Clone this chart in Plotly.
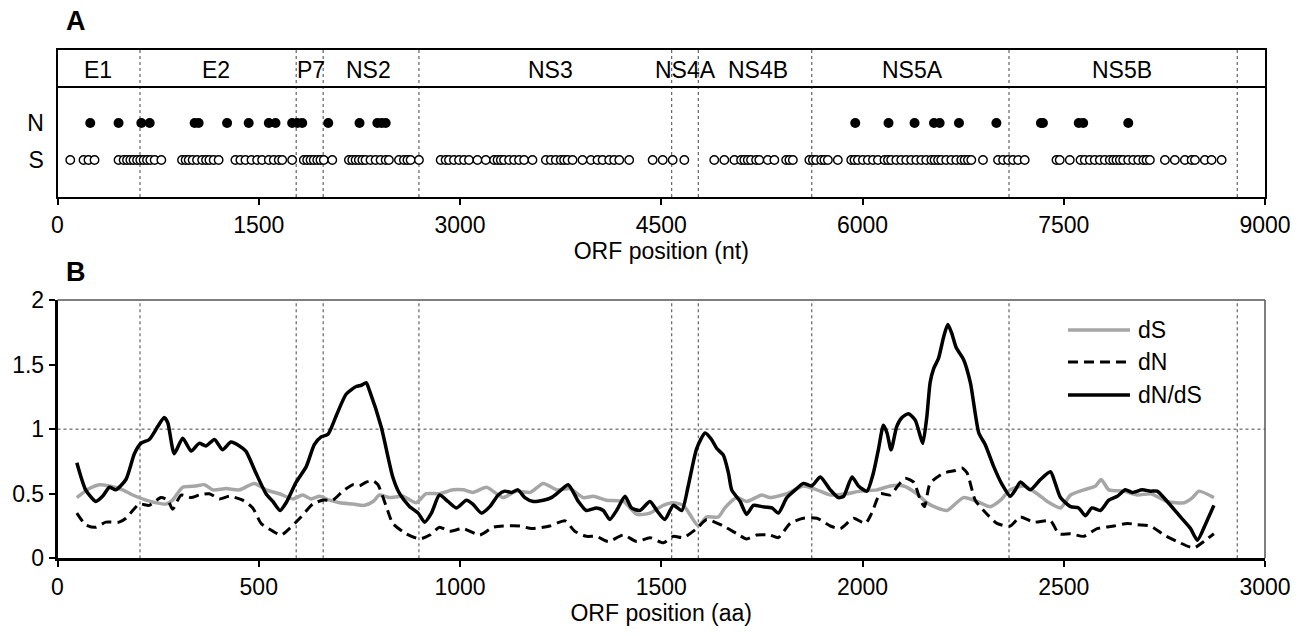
import plotly.graph_objects as go

# ---------------- data ----------------
# Panel A: substitution positions along ORF (nt)
N_POS = [244, 455, 625, 687, 1022, 1052, 1264, 1425, 1575, 1625, 1749, 1787, 1824,
         2018, 2251, 2384, 2416, 2446,
         5946, 6194, 6388, 6533, 6575, 6719, 6998, 7330, 7345, 7612, 7645, 7981]
S_POS = [95, 194, 231, 276, 455, 493, 518, 543, 567, 593, 617, 642, 667, 692, 724, 774,
         928, 955, 978, 1007, 1040, 1078, 1107, 1132, 1164, 1201,
         1326, 1363, 1401, 1446, 1488, 1525, 1575, 1612, 1649, 1675, 1749,
         1836, 1861, 1886, 1910, 1936, 1960, 1985, 2048,
         2172, 2197, 2222, 2246, 2272, 2296, 2333, 2371, 2408, 2446, 2470,
         2545, 2582, 2608, 2632, 2694, 2856, 2893, 2918,
         2955, 2993, 3030, 3067, 3130, 3192, 3254, 3280, 3304, 3328, 3366, 3403,
         3440, 3478, 3540, 3640, 3677, 3714, 3751, 3776, 3802, 3839, 3913, 3976,
         4025, 4063, 4112, 4149, 4187, 4261,
         4436, 4511, 4585, 4672,
         4895, 4970, 5045, 5095, 5119, 5145, 5169, 5207, 5231, 5294, 5343,
         5431, 5455, 5481, 5604, 5630, 5654, 5692, 5716, 5742, 5816,
         5916, 5940, 5966, 6003, 6040, 6078, 6115, 6164, 6190, 6214, 6252, 6289,
         6326, 6363, 6401, 6438, 6475, 6513, 6537, 6563, 6587, 6624, 6662, 6699,
         6736, 6761, 6786, 6811, 6898, 7010, 7048, 7085, 7122, 7160, 7209,
         7446, 7470, 7545, 7625, 7657, 7694, 7731, 7769, 7806, 7843, 7869, 7893,
         7918, 7943, 7980, 8018, 8055, 8093, 8117, 8142, 8254, 8328, 8403, 8453,
         8478, 8552, 8602, 8677]

# region boundaries (aa) and labels
BOUNDS_AA = [205, 593, 660, 898, 1526, 1592, 1874, 2364, 2931]
REGIONS = ["E1", "E2", "P7", "NS2", "NS3", "NS4A", "NS4B", "NS5A", "NS5B"]
REGION_CENTER_NT = [300, 1180, 1886, 2321, 3677, 4679, 5220, 6371, 7935]

# Panel B: sliding-window estimates along ORF (aa)
DNDS_AA = [48, 70, 95, 112, 129, 145, 170, 191, 207, 228, 249, 265, 274, 290, 311, 332,
           352, 369, 390, 410, 431, 452, 468, 493, 518, 535, 553, 568, 593, 618, 638,
           655, 672, 692, 717, 742, 755, 767, 775, 804, 833, 850, 875, 896, 912, 929,
           949, 970, 991, 1016, 1032, 1053, 1074, 1095, 1111, 1128, 1144, 1161, 1182,
           1207, 1227, 1248, 1269, 1294, 1314, 1339, 1356, 1372, 1389, 1410, 1426,
           1447, 1472, 1489, 1509, 1530, 1551, 1567, 1588, 1609, 1625, 1638, 1654,
           1667, 1675, 1696, 1712, 1729, 1750, 1775, 1791, 1812, 1833, 1853, 1874,
           1895, 1920, 1940, 1953, 1974, 1990, 2011, 2027, 2040, 2052, 2061, 2071,
           2085, 2098, 2114, 2131, 2144, 2150, 2160, 2168, 2177, 2189, 2202, 2212,
           2222, 2233, 2251, 2268, 2289, 2305, 2326, 2347, 2367, 2380, 2392, 2417,
           2442, 2467, 2479, 2492, 2517, 2537, 2554, 2570, 2591, 2612, 2633, 2653,
           2670, 2695, 2716, 2732, 2757, 2790, 2815, 2832, 2853, 2873]
DNDS = [0.74, 0.53, 0.44, 0.48, 0.55, 0.53, 0.61, 0.81, 0.89, 0.92, 1.02, 1.09, 1.05,
        0.81, 0.93, 0.83, 0.89, 0.87, 0.92, 0.84, 0.90, 0.87, 0.83, 0.66, 0.50, 0.44,
        0.37, 0.43, 0.59, 0.71, 0.88, 0.94, 0.96, 1.10, 1.27, 1.33, 1.34, 1.36, 1.30,
        1.02, 0.63, 0.50, 0.40, 0.35, 0.28, 0.35, 0.49, 0.44, 0.39, 0.45, 0.42, 0.35,
        0.40, 0.49, 0.52, 0.51, 0.53, 0.47, 0.44, 0.45, 0.47, 0.52, 0.57, 0.44, 0.37,
        0.39, 0.37, 0.30, 0.37, 0.48, 0.39, 0.37, 0.44, 0.37, 0.30, 0.41, 0.37, 0.56,
        0.85, 0.97, 0.92, 0.85, 0.80, 0.66, 0.53, 0.44, 0.34, 0.41, 0.40, 0.39, 0.35,
        0.47, 0.53, 0.58, 0.56, 0.63, 0.53, 0.47, 0.48, 0.63, 0.56, 0.52, 0.66, 0.85,
        1.03, 0.97, 0.84, 1.02, 1.09, 1.12, 1.07, 0.94, 0.89, 1.10, 1.36, 1.47, 1.55,
        1.72, 1.81, 1.74, 1.63, 1.54, 1.36, 0.97, 0.88, 0.71, 0.57, 0.48, 0.53, 0.59,
        0.53, 0.61, 0.67, 0.58, 0.47, 0.40, 0.39, 0.33, 0.39, 0.37, 0.45, 0.48, 0.53,
        0.51, 0.53, 0.52, 0.52, 0.44, 0.32, 0.23, 0.14, 0.27, 0.41]

DS_AA = [48, 79, 104, 129, 162, 187, 220, 245, 270, 286, 311, 344, 365, 386, 419, 452,
         489, 518, 551, 585, 609, 630, 651, 676, 701, 734, 763, 784, 800, 825, 858,
         891, 916, 949, 983, 1008, 1032, 1066, 1107, 1140, 1174, 1207, 1240, 1273,
         1306, 1331, 1364, 1406, 1439, 1472, 1505, 1530, 1555, 1571, 1592, 1613,
         1642, 1658, 1688, 1712, 1750, 1770, 1812, 1853, 1887, 1920, 1961, 1994,
         2036, 2069, 2102, 2135, 2160, 2185, 2210, 2251, 2285, 2318, 2343, 2367,
         2401, 2434, 2459, 2492, 2517, 2550, 2579, 2593, 2612, 2649, 2683, 2716,
         2757, 2799, 2820, 2836, 2873]
DS = [0.47, 0.54, 0.57, 0.56, 0.53, 0.49, 0.45, 0.43, 0.42, 0.45, 0.55, 0.56, 0.57,
      0.53, 0.54, 0.53, 0.58, 0.53, 0.50, 0.46, 0.49, 0.46, 0.48, 0.45, 0.43, 0.42,
      0.41, 0.44, 0.49, 0.47, 0.48, 0.43, 0.50, 0.50, 0.53, 0.53, 0.51, 0.55, 0.47,
      0.52, 0.51, 0.58, 0.53, 0.54, 0.47, 0.48, 0.45, 0.44, 0.34, 0.35, 0.41, 0.43,
      0.41, 0.34, 0.25, 0.32, 0.32, 0.39, 0.47, 0.44, 0.49, 0.47, 0.50, 0.56, 0.53,
      0.49, 0.50, 0.52, 0.53, 0.56, 0.56, 0.50, 0.43, 0.39, 0.37, 0.47, 0.44, 0.40,
      0.45, 0.53, 0.56, 0.50, 0.44, 0.39, 0.49, 0.53, 0.56, 0.61, 0.53, 0.52, 0.49,
      0.50, 0.44, 0.43, 0.47, 0.52, 0.47]

DN_AA = [48, 70, 95, 120, 153, 170, 203, 228, 257, 274, 286, 307, 332, 352, 377, 402,
         427, 460, 485, 506, 535, 556, 576, 605, 634, 659, 684, 709, 734, 750, 767,
         784, 796, 817, 833, 866, 900, 925, 949, 974, 1008, 1049, 1082, 1107, 1149,
         1178, 1223, 1261, 1285, 1314, 1339, 1368, 1406, 1439, 1472, 1505, 1530,
         1555, 1588, 1613, 1654, 1688, 1712, 1737, 1770, 1791, 1820, 1853, 1887,
         1920, 1945, 1978, 2007, 2023, 2044, 2069, 2090, 2106, 2127, 2144, 2154,
         2168, 2202, 2231, 2247, 2260, 2280, 2301, 2334, 2367, 2392, 2425, 2467,
         2488, 2517, 2550, 2583, 2625, 2658, 2683, 2716, 2749, 2782, 2823, 2848, 2873]
DN = [0.35, 0.26, 0.24, 0.28, 0.28, 0.31, 0.42, 0.41, 0.47, 0.45, 0.38, 0.49, 0.47,
      0.49, 0.50, 0.46, 0.48, 0.45, 0.39, 0.27, 0.21, 0.18, 0.23, 0.32, 0.42, 0.45,
      0.45, 0.52, 0.57, 0.56, 0.59, 0.60, 0.57, 0.40, 0.27, 0.19, 0.15, 0.18, 0.24,
      0.21, 0.23, 0.18, 0.24, 0.25, 0.25, 0.23, 0.25, 0.29, 0.21, 0.17, 0.17, 0.13,
      0.18, 0.13, 0.16, 0.12, 0.17, 0.16, 0.23, 0.30, 0.25, 0.19, 0.15, 0.18, 0.18,
      0.16, 0.27, 0.31, 0.31, 0.25, 0.23, 0.31, 0.27, 0.35, 0.50, 0.49, 0.57, 0.62,
      0.59, 0.45, 0.40, 0.58, 0.66, 0.68, 0.70, 0.66, 0.45, 0.37, 0.27, 0.25, 0.32,
      0.28, 0.29, 0.19, 0.19, 0.17, 0.23, 0.25, 0.27, 0.26, 0.25, 0.18, 0.13, 0.08,
      0.13, 0.19]

SERIES = ["dS", "dN", "dN/dS"]

A_XTICKS = [0, 1500, 3000, 4500, 6000, 7500, 9000]
B_XTICKS = [0, 500, 1000, 1500, 2000, 2500, 3000]
B_YTICKS = [0, 0.5, 1, 1.5, 2]
B_YTICKTEXT = ["0", "0.5", "1", "1.5", "2"]

# ---------------- figure ----------------
W, H = 1301, 636
FONT = "Liberation Sans, Arial, sans-serif"
FS = 23

def px_x(p):
    return p / W

def px_y(p):
    return 1 - p / H

XDOM = [px_x(57.5), px_x(1265)]
A_DOM = [px_y(197), px_y(50)]
B_DOM = [px_y(558.3), px_y(300)]

STYLES = {
    "dS": dict(color="#a6a6a6", width=3.5),
    "dN": dict(color="black", width=3, dash="10px,6px"),
    "dN/dS": dict(color="black", width=3.5),
}

fig = go.Figure()

# Panel A markers
fig.add_trace(go.Scatter(
    x=N_POS, y=[1] * len(N_POS), mode="markers", xaxis="x", yaxis="y",
    marker=dict(size=10, color="black", line=dict(width=0)), showlegend=False,
    hoverinfo="x"))
fig.add_trace(go.Scatter(
    x=S_POS, y=[0] * len(S_POS), mode="markers", xaxis="x", yaxis="y",
    marker=dict(size=8.5, color="white", line=dict(width=1.4, color="black")),
    showlegend=False, hoverinfo="x"))

# Panel B lines
for name, xs, ys in zip(SERIES, [DS_AA, DN_AA, DNDS_AA], [DS, DN, DNDS]):
    fig.add_trace(go.Scatter(
        x=xs, y=ys, mode="lines", name=name, xaxis="x2", yaxis="y2", showlegend=False,
        line=dict(**STYLES[name], shape="spline", smoothing=0.6)))

shapes = []
annotations = []

# region boundaries
for b in BOUNDS_AA:
    shapes.append(dict(type="line", xref="x", yref="y domain", x0=b * 3, x1=b * 3,
                       y0=0, y1=1, line=dict(color="#444", width=1, dash="dot"),
                       layer="below"))
    shapes.append(dict(type="line", xref="x2", yref="y2 domain", x0=b, x1=b,
                       y0=0, y1=1, line=dict(color="#444", width=1, dash="dot"),
                       layer="below"))
# horizontal dN/dS = 1 reference
shapes.append(dict(type="line", xref="x2 domain", yref="y2", x0=0, x1=1, y0=1, y1=1,
                   line=dict(color="#444", width=1, dash="dot"), layer="below"))
# label band separator in panel A
shapes.append(dict(type="line", xref="x domain", yref="y domain", x0=0, x1=1,
                   y0=110 / 147, y1=110 / 147, line=dict(color="black", width=2)))
# top/right border of panel B
shapes.append(dict(type="line", xref="x2 domain", yref="y2 domain", x0=0, x1=1,
                   y0=1, y1=1, line=dict(color="#555", width=1.5)))
shapes.append(dict(type="line", xref="x2 domain", yref="y2 domain", x0=1, x1=1,
                   y0=0, y1=1, line=dict(color="#555", width=1.5)))

for name, c in zip(REGIONS, REGION_CENTER_NT):
    annotations.append(dict(x=c, y=(197 - 70) / 147, xref="x", yref="y domain",
                            xanchor="center", yanchor="middle",
                            text=name, showarrow=False,
                            font=dict(family=FONT, size=FS, color="black")))

annotations.append(dict(x=px_x(76), y=px_y(21), xref="paper", yref="paper", text="<b>A</b>",
                        xanchor="center", yanchor="middle",
                        showarrow=False, font=dict(family=FONT, size=27, color="black")))
annotations.append(dict(x=px_x(76), y=px_y(272), xref="paper", yref="paper", text="<b>B</b>",
                        xanchor="center", yanchor="middle",
                        showarrow=False, font=dict(family=FONT, size=27, color="black")))

# legend (drawn as line samples + labels)
for name, ypix in zip(SERIES, [330, 362, 395]):
    shapes.append(dict(type="line", xref="paper", yref="paper",
                       x0=px_x(1068), x1=px_x(1130), y0=px_y(ypix), y1=px_y(ypix),
                       line=STYLES[name]))
    annotations.append(dict(x=px_x(1136), y=px_y(ypix), xref="paper", yref="paper",
                            xanchor="left", yanchor="middle", text=name, showarrow=False,
                            font=dict(family=FONT, size=FS, color="black")))

axis_font = dict(family=FONT, size=FS, color="black")

fig.update_layout(
    width=W, height=H,
    margin=dict(l=0, r=0, t=0, b=0, autoexpand=False),
    paper_bgcolor="white", plot_bgcolor="white",
    font=dict(family=FONT, size=FS, color="black"),
    showlegend=False,
    xaxis=dict(domain=XDOM, anchor="y", range=[0, 9000], tickvals=A_XTICKS,
               ticks="outside", ticklen=6, tickwidth=1.5, tickcolor="black",
               showline=True, linecolor="black", linewidth=2, mirror=True,
               showgrid=False, zeroline=False, tickfont=axis_font, automargin=False,
               title=dict(text="ORF position (nt)", font=axis_font, standoff=6)),
    yaxis=dict(domain=A_DOM, anchor="x", range=[-1, 2.973], tickvals=[1, 0],
               ticktext=["N", "S"], ticks="outside", ticklen=7,
               tickcolor="rgba(0,0,0,0)", showline=True, linecolor="black",
               linewidth=2, mirror=True, showgrid=False, zeroline=False,
               tickfont=axis_font, fixedrange=True, automargin=False),
    xaxis2=dict(domain=XDOM, anchor="y2", range=[0, 3000], tickvals=B_XTICKS,
                ticks="outside", ticklen=6, tickwidth=1.5, tickcolor="black",
                showline=True, linecolor="black", linewidth=2.5,
                showgrid=False, zeroline=False, tickfont=axis_font, automargin=False,
                title=dict(text="ORF position (aa)", font=axis_font, standoff=6)),
    yaxis2=dict(domain=B_DOM, anchor="x2", range=[0, 2], tickvals=B_YTICKS,
                ticktext=B_YTICKTEXT, ticks="outside", ticklen=6, tickwidth=1.5,
                tickcolor="black", showline=True, linecolor="black", linewidth=2.5,
                showgrid=False, zeroline=False, tickfont=axis_font, automargin=False),
    shapes=shapes,
    annotations=annotations,
)

fig.write_html("out.html", config={"displayModeBar": False},
               post_script="document.body.style.margin='0';document.body.style.padding='0';")
